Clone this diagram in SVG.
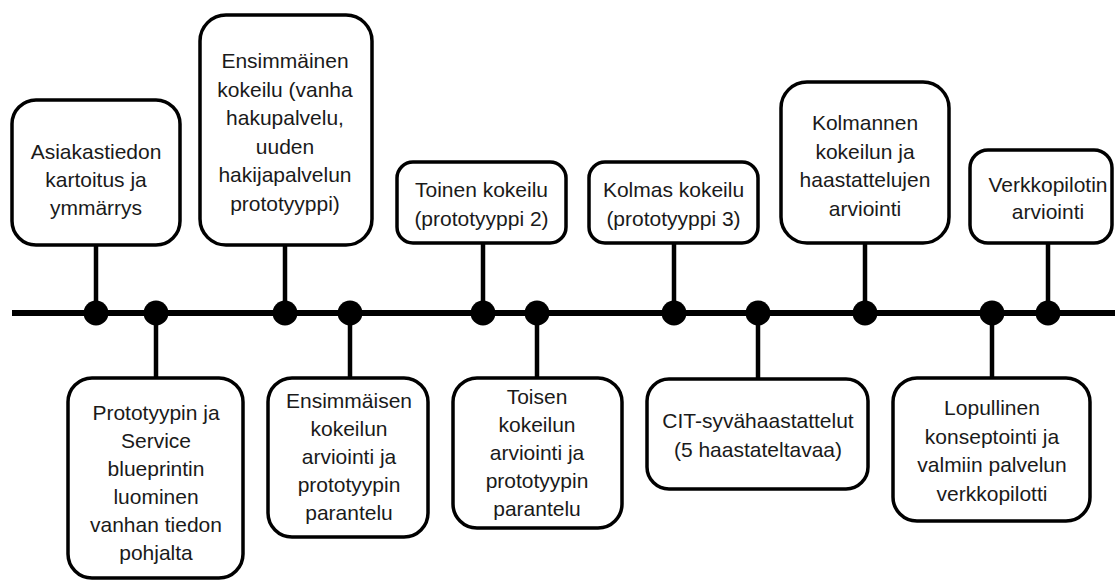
<svg xmlns="http://www.w3.org/2000/svg" width="1115" height="581" viewBox="0 0 1115 581">
<style>
.box{fill:#fff;stroke:#000;stroke-width:3.5}
.t{font-family:"Liberation Sans",Arial,sans-serif;font-size:21px;fill:#1a1a1a;text-anchor:middle}
.c{stroke:#000;stroke-width:4.5;fill:none}
.d{fill:#000}
</style>
<rect width="1115" height="581" fill="#fff"/>
<g id="connectors">
<line class="c" x1="12" y1="313" x2="1115" y2="313" style="stroke-width:6"/>
<line class="c" x1="96" y1="245" x2="96" y2="313"/>
<line class="c" x1="285" y1="245" x2="285" y2="313"/>
<line class="c" x1="483" y1="243" x2="483" y2="313"/>
<line class="c" x1="674" y1="243" x2="674" y2="313"/>
<line class="c" x1="865" y1="243" x2="865" y2="313"/>
<line class="c" x1="1048" y1="243" x2="1048" y2="313"/>
<line class="c" x1="156" y1="313" x2="156" y2="378"/>
<line class="c" x1="350" y1="313" x2="350" y2="378"/>
<line class="c" x1="537" y1="313" x2="537" y2="378"/>
<line class="c" x1="758" y1="313" x2="758" y2="379"/>
<line class="c" x1="992" y1="313" x2="992" y2="378"/>
<circle class="d" cx="96" cy="313" r="12.5"/>
<circle class="d" cx="156" cy="313" r="12.5"/>
<circle class="d" cx="285" cy="313" r="12.5"/>
<circle class="d" cx="350" cy="313" r="12.5"/>
<circle class="d" cx="483" cy="313" r="12.5"/>
<circle class="d" cx="537" cy="313" r="12.5"/>
<circle class="d" cx="674" cy="313" r="12.5"/>
<circle class="d" cx="758" cy="313" r="12.5"/>
<circle class="d" cx="865" cy="313" r="12.5"/>
<circle class="d" cx="992" cy="313" r="12.5"/>
<circle class="d" cx="1048" cy="313" r="12.5"/>
</g>
<g id="n1"><rect class="box" x="12" y="100" width="168" height="145" rx="24"/>
<text class="t" x="96" y="159">Asiakastiedon</text><text class="t" x="96" y="187">kartoitus ja</text><text class="t" x="96" y="215">ymmärrys</text></g>
<g id="n2"><rect class="box" x="200" y="15" width="172" height="230" rx="26"/>
<text class="t" x="285" y="68">Ensimmäinen</text><text class="t" x="285" y="96.5">kokeilu (vanha</text><text class="t" x="285" y="125">hakupalvelu,</text><text class="t" x="285" y="153.5">uuden</text><text class="t" x="285" y="182">hakijapalvelun</text><text class="t" x="285" y="210.5">prototyyppi)</text></g>
<g id="n3"><rect class="box" x="397" y="162" width="169" height="81" rx="16"/>
<text class="t" x="481.5" y="197">Toinen kokeilu</text><text class="t" x="481.5" y="226">(prototyyppi 2)</text></g>
<g id="n4"><rect class="box" x="589" y="162" width="169" height="81" rx="16"/>
<text class="t" x="673.5" y="197">Kolmas kokeilu</text><text class="t" x="673.5" y="226">(prototyyppi 3)</text></g>
<g id="n5"><rect class="box" x="781" y="82" width="168" height="161" rx="26"/>
<text class="t" x="865" y="130">Kolmannen</text><text class="t" x="865" y="158.5">kokeilun ja</text><text class="t" x="865" y="187">haastattelujen</text><text class="t" x="865" y="215.5">arviointi</text></g>
<g id="n6"><rect class="box" x="970" y="150" width="142" height="93" rx="18"/>
<text class="t" x="1048" y="192">Verkkopilotin</text><text class="t" x="1048" y="219">arviointi</text></g>
<g id="n7"><rect class="box" x="68" y="378" width="175" height="200" rx="24"/>
<text class="t" x="156" y="420">Prototyypin ja</text><text class="t" x="156" y="448">Service</text><text class="t" x="156" y="476">blueprintin</text><text class="t" x="156" y="504">luominen</text><text class="t" x="156" y="532">vanhan tiedon</text><text class="t" x="156" y="560">pohjalta</text></g>
<g id="n8"><rect class="box" x="268" y="378" width="160" height="159" rx="24"/>
<text class="t" x="349" y="408">Ensimmäisen</text><text class="t" x="349" y="436">kokeilun</text><text class="t" x="349" y="464">arviointi ja</text><text class="t" x="349" y="492">prototyypin</text><text class="t" x="349" y="520">parantelu</text></g>
<g id="n9"><rect class="box" x="453" y="378" width="169" height="150" rx="24"/>
<text class="t" x="537" y="404">Toisen</text><text class="t" x="537" y="432">kokeilun</text><text class="t" x="537" y="460">arviointi ja</text><text class="t" x="537" y="488">prototyypin</text><text class="t" x="537" y="516">parantelu</text></g>
<g id="n10"><rect class="box" x="647" y="379" width="221" height="110" rx="22"/>
<text class="t" x="758" y="428">CIT-syvähaastattelut</text><text class="t" x="758" y="457">(5 haastateltavaa)</text></g>
<g id="n11"><rect class="box" x="893" y="378" width="197" height="143" rx="24"/>
<text class="t" x="992" y="415">Lopullinen</text><text class="t" x="992" y="443.5">konseptointi ja</text><text class="t" x="992" y="472">valmiin palvelun</text><text class="t" x="992" y="500.5">verkkopilotti</text></g>
</svg>
